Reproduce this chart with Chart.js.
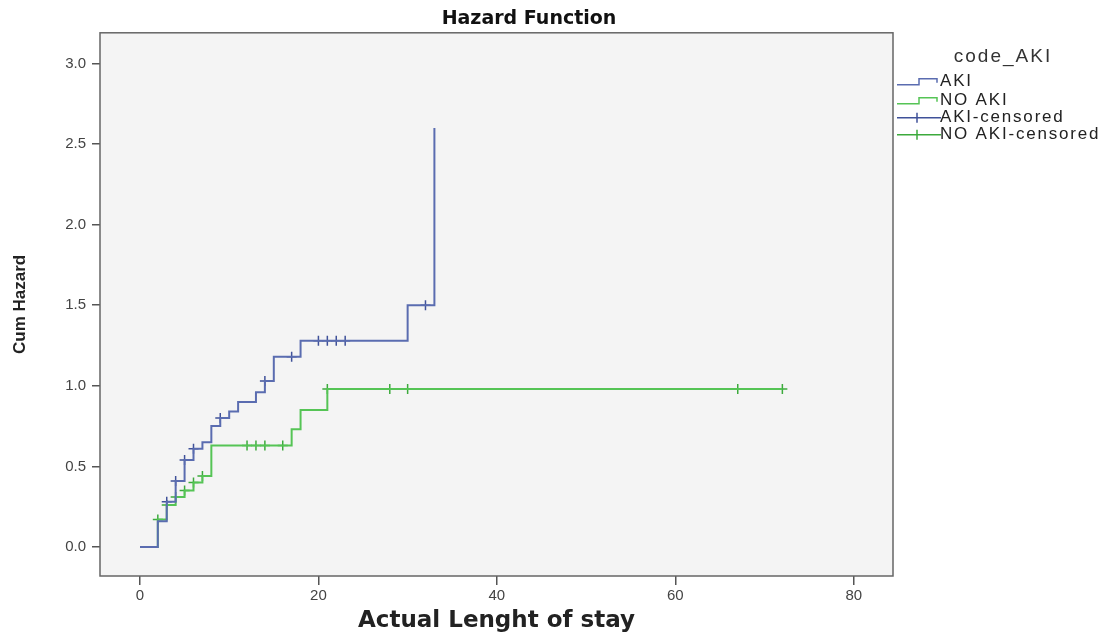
<!DOCTYPE html>
<html>
<head>
<meta charset="utf-8">
<script src="https://cdn.jsdelivr.net/npm/chart.js@4.4.0/dist/chart.umd.min.js"></script>
<style>
  html, body { margin: 0; padding: 0; background: #fff; }
  #wrap { width: 1108px; height: 635px; }
</style>
</head>
<body>
<div id="wrap"><canvas id="hazardChart"></canvas></div>
<script>
// step points of the cumulative hazard (time, value)
const akiTimes = [0, 2, 3, 4, 5, 6, 7, 8, 9, 10, 11, 13, 14, 15, 18, 30, 33];
const akiHazard = [0, 0.16, 0.28, 0.41, 0.54, 0.61, 0.65, 0.75, 0.80, 0.84, 0.90, 0.96, 1.03, 1.18, 1.28, 1.50, 2.60];
const akiCensorTimes = [3, 4, 5, 6, 9, 14, 17, 20, 21, 22, 23, 32];
const akiCensorHazard = [0.28, 0.41, 0.54, 0.61, 0.80, 1.03, 1.18, 1.28, 1.28, 1.28, 1.28, 1.50];

const noAkiTimes = [0, 2, 3, 4, 5, 6, 7, 8, 17, 18, 21, 72];
const noAkiHazard = [0, 0.17, 0.26, 0.31, 0.35, 0.40, 0.44, 0.63, 0.73, 0.85, 0.98, 0.98];
const noAkiCensorTimes = [2, 3, 4, 5, 6, 7, 12, 13, 14, 16, 21, 28, 30, 67, 72];
const noAkiCensorHazard = [0.17, 0.26, 0.31, 0.35, 0.40, 0.44, 0.63, 0.63, 0.63, 0.63, 0.98, 0.98, 0.98, 0.98, 0.98];

const xTicks = [0, 20, 40, 60, 80];
const yTicks = [0, 0.5, 1, 1.5, 2, 2.5, 3];

const legendTitle = 'code_AKI';
const legendLabels = ['AKI', 'NO AKI', 'AKI-censored', 'NO AKI-censored'];

const blue = '#5a6cb0';
const blueMark = '#3f5199';
const green = '#55c455';
const greenMark = '#3caa3c';

const tickFont = { family: '"Liberation Sans", Arial, sans-serif', size: 15 };

function toPoints(xs, ys) {
  return xs.map((x, i) => ({ x, y: ys[i] }));
}

// grey plot background and frame
const plotFrame = {
  id: 'plotFrame',
  beforeDatasetsDraw(chart) {
    const { ctx, chartArea: a } = chart;
    ctx.save();
    ctx.fillStyle = '#f4f4f4';
    ctx.fillRect(a.left, a.top, a.width, a.height);
    ctx.restore();
  },
  afterDatasetsDraw(chart) {
    const { ctx, chartArea: a } = chart;
    ctx.save();
    ctx.strokeStyle = '#666';
    ctx.lineWidth = 1.5;
    ctx.strokeRect(a.left, a.top, a.width, a.height);
    ctx.restore();
  }
};

// SPSS-like legend at the right of the plot
const sideLegend = {
  id: 'sideLegend',
  afterDraw(chart) {
    const { ctx, chartArea: a } = chart;
    const x0 = a.right + 4;
    ctx.save();
    ctx.fillStyle = '#333';
    ctx.font = '19px "Liberation Sans", Arial, sans-serif';
    ctx.letterSpacing = '2px';
    ctx.textAlign = 'center';
    ctx.textBaseline = 'middle';
    ctx.fillText(legendTitle, a.right + 110, a.top + 24);

    ctx.font = '17px "Liberation Sans", Arial, sans-serif';
    ctx.letterSpacing = '1.8px';
    ctx.textAlign = 'left';
    const rows = [a.top + 49, a.top + 68, a.top + 85, a.top + 102];
    const cols = [blue, green, blueMark, greenMark];
    legendLabels.forEach((label, i) => {
      const y = rows[i];
      ctx.strokeStyle = cols[i];
      ctx.lineWidth = 1.5;
      ctx.beginPath();
      if (i < 2) {
        ctx.moveTo(x0, y + 3);
        ctx.lineTo(x0 + 22, y + 3);
        ctx.lineTo(x0 + 22, y - 3);
        ctx.lineTo(x0 + 40, y - 3);
        ctx.lineTo(x0 + 40, y + 1);
      } else {
        ctx.moveTo(x0, y);
        ctx.lineTo(x0 + 44, y);
        ctx.moveTo(x0 + 20, y - 5);
        ctx.lineTo(x0 + 20, y + 5);
      }
      ctx.stroke();
      ctx.fillStyle = '#222';
      ctx.fillText(label, x0 + 43, y);
    });
    ctx.restore();
  }
};

new Chart(document.getElementById('hazardChart'), {
  type: 'scatter',
  data: {
    datasets: [
      {
        label: 'AKI',
        data: toPoints(akiTimes, akiHazard),
        showLine: true,
        stepped: 'before',
        borderColor: blue,
        borderWidth: 2,
        pointRadius: 0,
        fill: false
      },
      {
        label: 'NO AKI',
        data: toPoints(noAkiTimes, noAkiHazard),
        showLine: true,
        stepped: 'before',
        borderColor: green,
        borderWidth: 2,
        pointRadius: 0,
        fill: false
      },
      {
        label: 'AKI-censored',
        data: toPoints(akiCensorTimes, akiCensorHazard),
        showLine: false,
        pointStyle: 'cross',
        pointRadius: 5,
        pointBorderWidth: 1.5,
        pointBorderColor: blueMark
      },
      {
        label: 'NO AKI-censored',
        data: toPoints(noAkiCensorTimes, noAkiCensorHazard),
        showLine: false,
        pointStyle: 'cross',
        pointRadius: 5,
        pointBorderWidth: 1.5,
        pointBorderColor: greenMark
      }
    ]
  },
  options: {
    responsive: true,
    maintainAspectRatio: false,
    animation: false,
    layout: { padding: { right: 50 } },
    plugins: {
      legend: { display: false },
      tooltip: { enabled: false },
      title: {
        display: true,
        text: 'Hazard Function',
        color: '#111',
        font: { family: '"DejaVu Sans", sans-serif', size: 19, weight: 'bold' },
        padding: { top: 8, bottom: 2 }
      }
    },
    scales: {
      x: {
        type: 'linear',
        min: -4.48,
        max: 84.4,
        afterBuildTicks: s => { s.ticks = xTicks.map(v => ({ value: v })); },
        afterFit: s => { s.height = 59; },
        ticks: { font: tickFont, color: '#444', padding: 2, callback: v => v },
        grid: { drawOnChartArea: false, tickLength: 9, color: '#555', lineWidth: 1.5 },
        border: { display: false },
        title: {
          display: true,
          text: 'Actual Lenght of stay',
          color: '#222',
          font: { family: '"DejaVu Sans", sans-serif', size: 23, weight: 'bold' },
          padding: { top: 2, bottom: 0 }
        }
      },
      y: {
        type: 'linear',
        min: -0.18,
        max: 3.19,
        afterBuildTicks: s => { s.ticks = yTicks.map(v => ({ value: v })); },
        afterFit: s => { s.width = 100; },
        ticks: { font: tickFont, color: '#444', padding: 6, callback: v => v.toFixed(1) },
        grid: { drawOnChartArea: false, tickLength: 8, color: '#555', lineWidth: 1.5 },
        border: { display: false },
        title: {
          display: true,
          text: 'Cum Hazard',
          color: '#222',
          font: { family: '"Liberation Sans", Arial, sans-serif', size: 17, weight: 'bold' },
          padding: { top: 10, bottom: 4 }
        }
      },
      // empty right-hand axis that reserves room for the legend
      legendSpace: {
        type: 'linear',
        position: 'right',
        afterFit: s => { s.width = 165; },
        ticks: { display: false },
        grid: { display: false },
        border: { display: false }
      }
    }
  },
  plugins: [plotFrame, sideLegend]
});
</script>
</body>
</html>
